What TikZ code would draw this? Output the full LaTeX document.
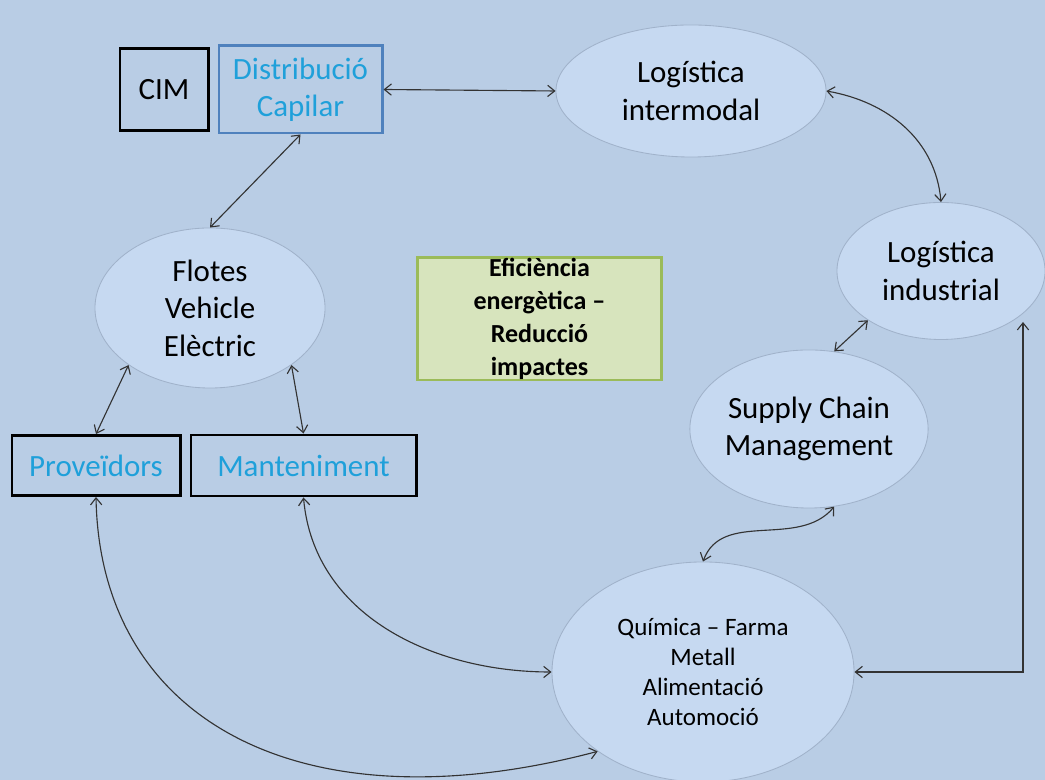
\documentclass[tikz,border=0pt]{standalone}
\usepackage{fontspec}
\setmainfont{Carlito}
\usetikzlibrary{shapes.geometric, positioning, arrows.meta}

\definecolor{bgblue}{RGB}{185,205,229}
\definecolor{bubblefill}{RGB}{198,217,241}
\definecolor{bubbleline}{RGB}{160,178,202}
\definecolor{frameblue}{RGB}{79,129,189}
\definecolor{textcyan}{RGB}{31,160,218}
\definecolor{greenfill}{RGB}{215,228,189}
\definecolor{greenline}{RGB}{155,187,89}

\tikzset{
	bubble/.style={ellipse, draw=bubbleline, fill=bubblefill, line width=0.6pt, align=center, inner sep=0pt, font=\fontsize{22}{26.7}\selectfont},
	blackbox/.style={rectangle, draw=black, line width=2.1pt, align=center, inner sep=0pt, font=\fontsize{22}{26}\selectfont},
	bluebox/.style={blackbox, draw=frameblue, text=textcyan},
	greenbox/.style={rectangle, draw=greenline, fill=greenfill, line width=2.1pt, align=center, inner sep=0pt, font=\bfseries\fontsize{18.5}{23.5}\selectfont},
	link/.style={<->, >={Straight Barb[length=5pt, width=8pt]}, draw=black!80, line width=0.8pt},
}

\begin{document}
\begin{tikzpicture}[x=0.025cm, y=0.025cm]
	\useasboundingbox (0,0) rectangle (1045,780);
	\fill[bgblue] (0,0) rectangle (1045,780);
	
	% left side
	\node[bluebox, minimum width=4.075cm, minimum height=2.175cm] (dist) at (300.5,690.5) {Distribució\\Capilar};
	\node[blackbox, minimum width=2.2cm, minimum height=2.05cm, left=0.2cm of dist] (cim) {CIM};
	\node[bubble, minimum width=5.75cm, minimum height=4cm] (flotes) at (210,472) {Flotes\\Vehicle\\Elèctric};
	\node[blackbox, text=textcyan, minimum width=4.2cm, minimum height=1.5cm] (prov) at (96,314.5) {Proveïdors};
	\node[blackbox, text=textcyan, minimum width=5.625cm, minimum height=1.525cm, right=0.2cm of prov] (mant) {Manteniment};
	
	% centre
	\node[greenbox, minimum width=6.075cm, minimum height=3.05cm] (efic) at (539.5,461) {Eficiència\\energètica –\\Reducció\\impactes};
	
	% right side
	\node[bubble, minimum width=6.75cm, minimum height=3.3cm] (interm) at (691,689) {Logística\\intermodal};
	\node[bubble, minimum width=5.2cm, minimum height=3.425cm] (indus) at (941,509) {Logística\\industrial};
	\node[bubble, minimum width=5.95cm, minimum height=3.95cm] (scm) at (809,351) {Supply Chain\\Management};
	\node[bubble, minimum width=7.55cm, minimum height=5.5cm, font=\fontsize{17.8}{21.3}\selectfont] (quim) at (703,108) {Química – Farma\\Metall\\Alimentació\\Automoció};
	\coordinate (indcorner) at (1023,458);
	
	\draw[link] (dist.east) -- (interm.west);
	\draw[link] (dist.south) -- (flotes.north);
	\draw[link] (interm.east) to[out=-10, in=95] (indus.north);
	\draw[link] (indus.214) -- (scm.72);
	\draw[link] (quim.north) to[out=70, in=-130] (scm.-72);
	\draw[link] (quim.east) -| (indcorner);
	\draw[link] (flotes.215) -- (prov.north);
	\draw[link] (flotes.-35) -- (mant.north);
	\draw[link] (mant.south) to[out=-85, in=180] (quim.west);
	\draw[link] (prov.south) .. controls (100,60) and (300,-50) .. (quim.217);
\end{tikzpicture}
\end{document}
